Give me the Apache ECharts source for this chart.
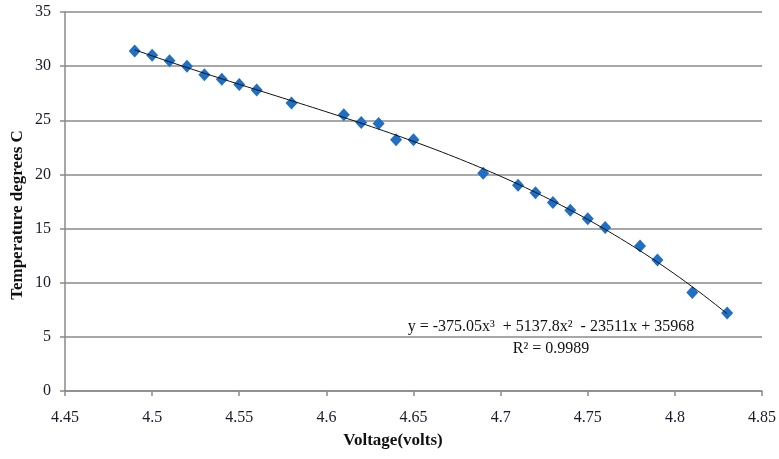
<!DOCTYPE html>
<html><head><meta charset="utf-8">
<script src="https://cdn.jsdelivr.net/npm/echarts@6/dist/echarts.min.js"></script>
<style>html,body{margin:0;padding:0;background:#fff}#c{width:779px;height:459px}</style>
</head><body><div id="c"></div>
<script>
const voltage = [4.49,4.50,4.51,4.52,4.53,4.54,4.55,4.56,4.58,4.61,4.62,4.63,4.64,4.65,4.69,4.71,4.72,4.73,4.74,4.75,4.76,4.78,4.79,4.81,4.83];
const temperature = [31.4,31.0,30.5,30.0,29.2,28.8,28.3,27.8,26.6,25.5,24.8,24.7,23.2,23.2,20.1,19.0,18.3,17.4,16.7,15.9,15.1,13.4,12.1,9.1,7.2];
const equationText = 'y = -375.05x³  + 5137.8x²  - 23511x + 35968';
const r2Text = 'R² = 0.9989';

// least-squares cubic trendline (centered x for stability)
function fitCubic(xs, ys){
  const m = xs.reduce((a,b)=>a+b,0)/xs.length;
  const n=4; const A=[...Array(n)].map(()=>Array(n+1).fill(0));
  xs.forEach((x,i)=>{const t=x-m; const p=[1,t,t*t,t*t*t];
    for(let r=0;r<n;r++){for(let c=0;c<n;c++)A[r][c]+=p[r]*p[c];A[r][n]+=p[r]*ys[i];}});
  for(let i=0;i<n;i++){let mx=i;for(let k=i+1;k<n;k++)if(Math.abs(A[k][i])>Math.abs(A[mx][i]))mx=k;
    [A[i],A[mx]]=[A[mx],A[i]];
    for(let k=0;k<n;k++){if(k===i)continue;const f=A[k][i]/A[i][i];for(let c=i;c<=n;c++)A[k][c]-=f*A[i][c];}}
  const co=A.map((r,i)=>r[n]/r[i]);
  return x=>{const t=x-m;return co[0]+co[1]*t+co[2]*t*t+co[3]*t*t*t;};
}
const f = fitCubic(voltage, temperature);
const trend = [];
const x0 = voltage[0], x1 = voltage[voltage.length-1];
for(let i=0;i<=100;i++){const x=x0+(x1-x0)*i/100; trend.push([x,f(x)]);}

const chart = echarts.init(document.getElementById('c'));
const serif = '"Liberation Serif","DejaVu Serif",serif';
chart.setOption({
  animation:false,
  grid:{left:65,right:10,top:12,bottom:68},
  xAxis:{type:'value',min:4.45,max:4.85,interval:0.05,
    axisLine:{show:true,lineStyle:{color:'#8a8a8a',width:1.5}},
    axisTick:{show:true,length:5,lineStyle:{color:'#8a8a8a',width:1.5}},
    splitLine:{show:false},
    axisLabel:{margin:19,color:'#1a1a2e',fontFamily:serif,fontSize:16,
      formatter:v=>String(parseFloat(v.toFixed(2)))}},
  yAxis:{type:'value',min:0,max:35,interval:5,
    axisLine:{show:true,lineStyle:{color:'#8a8a8a',width:1.5}},
    axisTick:{show:true,length:5,lineStyle:{color:'#8a8a8a',width:1.5}},
    splitLine:{show:true,lineStyle:{color:'#8a8a8a',width:1.5}},
    axisLabel:{margin:14,color:'#1a1a2e',fontFamily:serif,fontSize:16}},
  graphic:[
    {type:'text',x:393,y:441,style:{text:'Voltage(volts)',font:'bold 17px '+serif,fill:'#111',textAlign:'center',textVerticalAlign:'middle'}},
    {type:'text',x:18,y:215,rotation:Math.PI/2,style:{text:'Temperature degrees C',font:'bold 17px '+serif,fill:'#111',textAlign:'center',textVerticalAlign:'middle'}},
    {type:'text',x:551,y:327,style:{text:equationText,font:'16px '+serif,fill:'#111',textAlign:'center',textVerticalAlign:'middle'}},
    {type:'text',x:551,y:349,style:{text:r2Text,font:'16px '+serif,fill:'#111',textAlign:'center',textVerticalAlign:'middle'}}
  ],
  series:[
    {type:'line',data:trend,showSymbol:false,symbol:'none',lineStyle:{color:'#111',width:1},z:3},
    {type:'scatter',data:voltage.map((v,i)=>[v,temperature[i]]),symbol:'diamond',symbolSize:[12,13],
      itemStyle:{color:'#1f6fc4',opacity:1},z:2}
  ]
});
</script></body></html>
